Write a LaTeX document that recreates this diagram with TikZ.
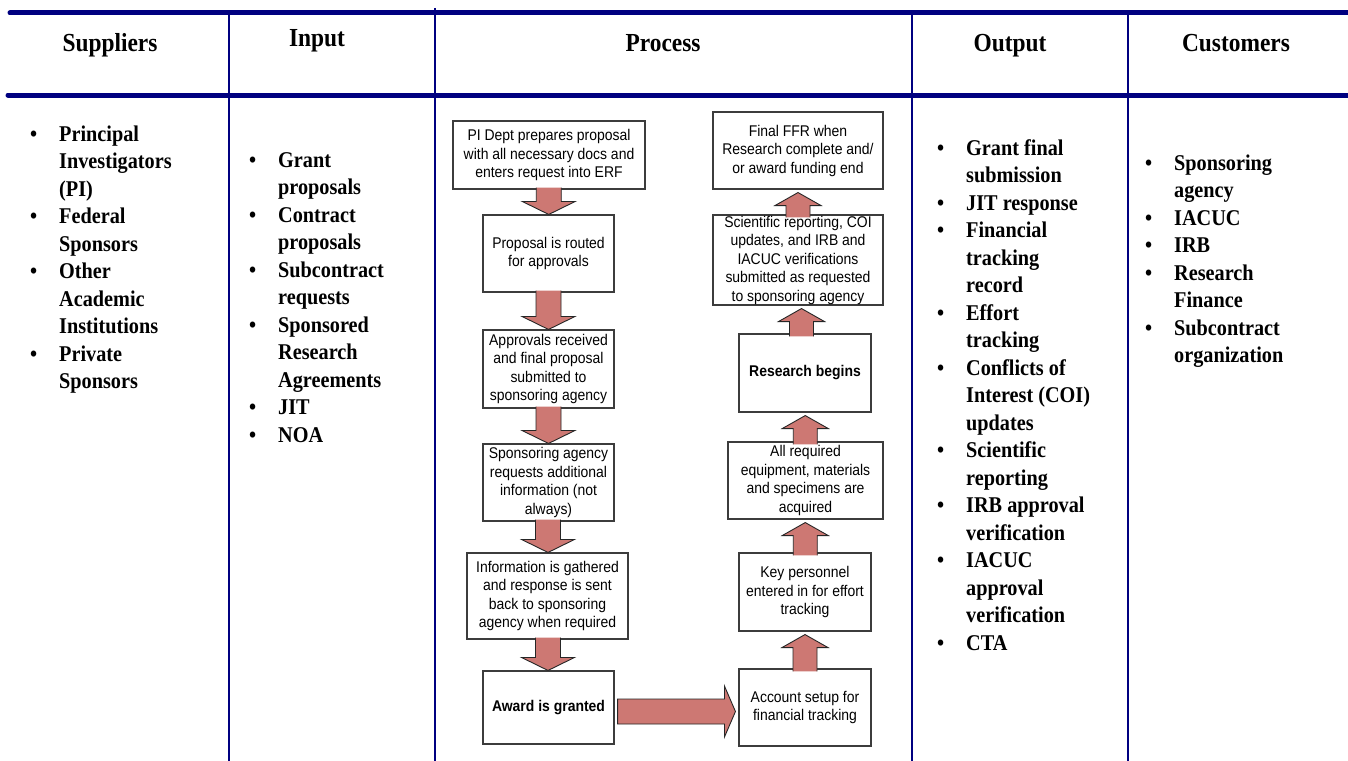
\documentclass[tikz,border=0pt]{standalone}
\usepackage{fontspec}
\newfontfamily\serifb[FakeStretch=0.9]{Liberation Serif}
\newfontfamily\sansbox[FakeStretch=0.9]{Liberation Sans}
\usetikzlibrary{calc}
\definecolor{navyline}{RGB}{0,0,128}
\definecolor{arrowred}{RGB}{205,120,115}
\definecolor{boxline}{RGB}{60,60,60}
\tikzset{
  hdr/.style={font=\serifb\bfseries\fontsize{26}{30}\selectfont, anchor=base, inner sep=0pt},
  lst/.style={font=\serifb\bfseries\fontsize{22.5}{27.5}\selectfont, anchor=north west, align=left, inner sep=0pt},
  pbox/.style={draw=boxline, line width=1.1pt, fill=white, inner sep=0pt, align=center,
    font=\sansbox\fontsize{15.5}{18.5}\selectfont},
  blockarrow/.style={fill=arrowred, draw=black!85, line width=0.9pt, line join=miter},
  hrule/.style={draw=navyline, line cap=round, line width=5pt},
  vrule/.style={draw=navyline, line width=2.8pt},
}
\newcommand\bul{\llap{\textbullet\hspace{22pt}}}
\newcommand\fst{\rule{0pt}{17pt}}
\newcommand\downblock[2]{%
  \draw[blockarrow] let \p1=(#1.south), \p2=(#2.north), \p3=($(\p1)!0.5!(\p2)$) in
    (\x3-12.5pt,\y1+2pt) -- (\x3-12.5pt,\y2+13pt) -- (\x3-26.5pt,\y2+13pt) -- (\x3,\y2)
    -- (\x3+26.5pt,\y2+13pt) -- (\x3+12.5pt,\y2+13pt) -- (\x3+12.5pt,\y1+2pt);}
\newcommand\upblock[2]{%
  \draw[blockarrow] let \p1=(#1.north), \p2=(#2.south), \p3=($(\p1)!0.5!(\p2)$) in
    (\x3-12pt,\y1-3pt) -- (\x3-12pt,\y2-16pt) -- (\x3-23pt,\y2-16pt) -- (\x3,\y2-3pt)
    -- (\x3+23pt,\y2-16pt) -- (\x3+12pt,\y2-16pt) -- (\x3+12pt,\y1-3pt);}
\begin{document}
\begin{tikzpicture}[x=1pt,y=-1pt]
\useasboundingbox[fill=white] (0,0) rectangle (1348,760);
% frame lines
\coordinate (tl) at (10,13);   \coordinate (tr) at (1352,13);
\coordinate (bl) at (8,95);    \coordinate (br) at (1352,95);
\draw[hrule] (tl) -- (tr);
\draw[hrule] (bl) -- (br);
\coordinate (v1t) at (229,13);  \coordinate (v1b) at (229,762);
\coordinate (v2t) at (435,8);   \coordinate (v2b) at (435,762);
\coordinate (v3t) at (912,13);  \coordinate (v3b) at (912,762);
\coordinate (v4t) at (1128,13); \coordinate (v4b) at (1128,762);
\draw[vrule] (v1t) -- (v1b);
\draw[vrule] (v2t) -- (v2b);
\draw[vrule] (v3t) -- (v3b);
\draw[vrule] (v4t) -- (v4b);
% headers
\node[hdr] (hs) at (110,52) {Suppliers};
\node[hdr] (hi) at (317,47) {Input};
\node[hdr] (hp) at (663,52) {Process};
\node[hdr] (ho) at (1010,52) {Output};
\node[hdr] (hc) at (1236,52) {Customers};
% lists
\node[lst] (sup) at (59,124) {\fst\bul Principal\\ Investigators\\ (PI)\\ \bul Federal\\ Sponsors\\
  \bul Other\\ Academic\\ Institutions\\ \bul Private\\ Sponsors};
\node[lst] (inp) at (278,150) {\fst\bul Grant\\ proposals\\ \bul Contract\\ proposals\\ \bul Subcontract\\
  requests\\ \bul Sponsored\\ Research\\ Agreements\\ \bul JIT\\ \bul NOA};
\node[lst] (out) at (966,138) {\fst\bul Grant final\\ submission\\ \bul JIT response\\ \bul Financial\\
  tracking\\ record\\ \bul Effort\\ tracking\\ \bul Conflicts of\\ Interest (COI)\\ updates\\
  \bul Scientific\\ reporting\\ \bul IRB approval\\ verification\\ \bul IACUC\\ approval\\
  verification\\ \bul CTA};
\node[lst] (cus) at (1174,153) {\fst\bul Sponsoring\\ agency\\ \bul IACUC\\ \bul IRB\\ \bul Research\\
  Finance\\ \bul Subcontract\\ organization};
% process boxes, left column
\node[pbox, minimum width=192pt, minimum height=68pt] (b1) at (549,155)
  {PI Dept prepares proposal\\ with all necessary docs and\\ enters request into ERF};
\node[pbox, minimum width=131pt, minimum height=77pt] (b2) at (548.5,253.5)
  {Proposal is routed\\ for approvals};
\node[pbox, minimum width=131pt, minimum height=78pt] (b3) at (548.5,369)
  {Approvals received\\ and final proposal\\ submitted to\\ sponsoring agency};
\node[pbox, minimum width=131pt, minimum height=77pt] (b4) at (548.5,482.5)
  {Sponsoring agency\\ requests additional\\ information (not\\ always)};
\node[pbox, minimum width=161pt, minimum height=86pt] (b5) at (547.5,596)
  {Information is gathered\\ and response is sent\\ back to sponsoring\\ agency when required};
\node[pbox, minimum width=131pt, minimum height=73pt] (b6) at (548.5,707.5)
  {\bfseries Award is granted};
% process boxes, right column
\node[pbox, minimum width=132pt, minimum height=77pt] (r1) at (805,707.5)
  {Account setup for\\ financial tracking};
\node[pbox, minimum width=132pt, minimum height=78pt] (r2) at (805,592)
  {Key personnel\\ entered in for effort\\ tracking};
\node[pbox, minimum width=155pt, minimum height=77pt] (r3) at (805.5,480.5)
  {All required\\ equipment, materials\\ and specimens are\\ acquired};
\node[pbox, minimum width=132pt, minimum height=78pt] (r4) at (805,373)
  {\bfseries Research begins};
\node[pbox, minimum width=170pt, minimum height=90pt] (r5) at (798,260)
  {Scientific reporting, COI\\ updates, and IRB and\\ IACUC verifications\\ submitted as requested\\ to sponsoring agency};
\node[pbox, minimum width=170pt, minimum height=77pt] (r6) at (798,150.5)
  {Final FFR when\\ Research complete and/\\ or award funding end};
% block arrows
\downblock{b1}{b2}
\downblock{b2}{b3}
\downblock{b3}{b4}
\downblock{b4}{b5}
\downblock{b5}{b6}
\draw[blockarrow] let \p1=(b6.east), \p2=(r1.west) in
  (\x1+3pt,\y1+8.5pt) -- (\x2-14pt,\y1+8.5pt) -- (\x2-14pt,\y1+21.5pt) -- (\x2-3pt,\y1-4pt)
  -- (\x2-14pt,\y1-29.5pt) -- (\x2-14pt,\y1-16.5pt) -- (\x1+3pt,\y1-16.5pt) -- cycle;
\upblock{r1}{r2}
\upblock{r2}{r3}
\upblock{r3}{r4}
\upblock{r4}{r5}
\upblock{r5}{r6}
\end{tikzpicture}
\end{document}
